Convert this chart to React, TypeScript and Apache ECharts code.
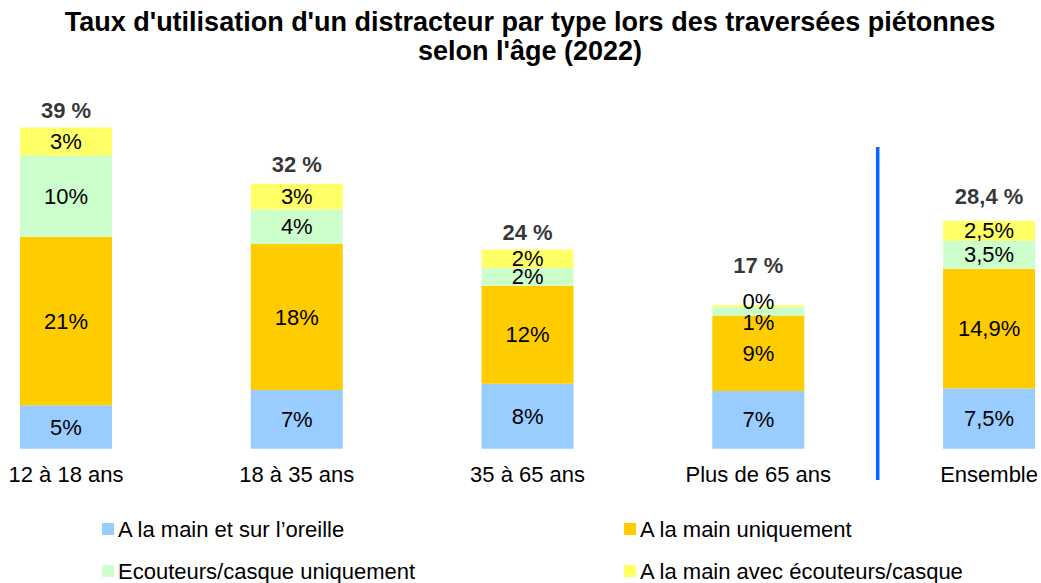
import React, { useEffect, useRef } from 'react';
import * as echarts from 'echarts';

const categories = ['12 à 18 ans', '18 à 35 ans', '35 à 65 ans', 'Plus de 65 ans', 'Ensemble'];
const seriesNames = [
  'A la main et sur l’oreille',
  'A la main uniquement',
  'Ecouteurs/casque uniquement',
  'A la main avec écouteurs/casque',
];
// segment heights (percent)
const mainEtOreille = [5.4, 7.3, 8.1, 7.2, 7.5];
const mainUniquement = [21.0, 18.2, 12.2, 9.4, 14.9];
const ecouteurs = [10.1, 4.3, 2.2, 1.0, 3.5];
const mainEcouteurs = [3.5, 3.2, 2.3, 0.25, 2.5];
// printed labels
const labelsMainOreille = ['5%', '7%', '8%', '7%', '7,5%'];
const labelsMainUniq = ['21%', '18%', '12%', '9%', '14,9%'];
const labelsEcouteurs = ['10%', '4%', '2%', '1%', '3,5%'];
const labelsMainEcouteurs = ['3%', '3%', '2%', '0%', '2,5%'];
const totalLabels = ['39 %', '32 %', '24 %', '17 %', '28,4 %'];

const FONT = '"Liberation Sans", Arial, Helvetica, sans-serif';
const colors = ['#99CCFF', '#FFCC00', '#CCFFCC', '#FFFF66'];

export default function App() {
  const ref = useRef<HTMLDivElement>(null);
  useEffect(() => {
    if (!ref.current) return;
    const chart = echarts.init(ref.current, undefined, { renderer: 'svg' });
    const lbl = (arr: string[]) => ({
      show: true,
      position: 'inside',
      color: '#000',
      fontSize: 22,
      fontFamily: FONT,
      formatter: (p: any) => arr[p.dataIndex],
    });
    const totals = categories.map(
      (_, i) => mainEtOreille[i] + mainUniquement[i] + ecouteurs[i] + mainEcouteurs[i]
    );
    const totalOffsets = [0, -2, 0, -22, -7];
    const legendItem = (name: string, left: number, top: number) => ({
      orient: 'horizontal',
      left,
      top,
      padding: 0,
      itemWidth: 12,
      itemHeight: 12,
      itemGap: 0,
      icon: 'rect',
      selectedMode: false,
      textStyle: { fontSize: 22, color: '#000', fontFamily: FONT, padding: [0, 0, 0, -1] },
      data: [name],
    });
    chart.setOption({
      animation: false,
      grid: { left: 66, right: 51, top: 47.2, bottom: 134.3 },
      xAxis: {
        type: 'category',
        data: categories,
        boundaryGap: false,
        axisLine: { show: false },
        axisTick: { show: false },
        axisLabel: { interval: 0, color: '#000', fontSize: 22, fontFamily: FONT, margin: 15 },
      },
      yAxis: { type: 'value', min: 0, max: 50, show: false },
      legend: [
        legendItem(seriesNames[0], 102, 518),
        legendItem(seriesNames[2], 102, 560),
        legendItem(seriesNames[1], 624, 518),
        legendItem(seriesNames[3], 624, 560),
      ],
      series: [
        {
          name: seriesNames[0], type: 'bar', stack: 'total', barWidth: 92,
          itemStyle: { color: colors[0] }, label: lbl(labelsMainOreille), data: mainEtOreille,
        },
        {
          name: seriesNames[1], type: 'bar', stack: 'total', barWidth: 92,
          itemStyle: { color: colors[1] }, label: lbl(labelsMainUniq), data: mainUniquement,
        },
        {
          name: seriesNames[2], type: 'bar', stack: 'total', barWidth: 92,
          itemStyle: { color: colors[2] }, label: lbl(labelsEcouteurs),
          data: ecouteurs.map((v, i) => (i === 3 ? { value: v, label: { offset: [0, 11] } } : v)),
        },
        {
          name: seriesNames[3], type: 'bar', stack: 'total', barWidth: 92,
          itemStyle: { color: colors[3] }, label: lbl(labelsMainEcouteurs),
          data: mainEcouteurs.map((v, i) => (i === 3 ? { value: v, label: { offset: [0, -5] } } : v)),
        },
        {
          name: 'total', type: 'scatter', symbolSize: 1, silent: true, z: 10,
          itemStyle: { color: 'rgba(0,0,0,0)' },
          label: {
            show: true, position: 'top', distance: 6, color: '#000', fontSize: 22,
            fontWeight: 'bold', fontFamily: FONT,
            formatter: (p: any) => totalLabels[p.dataIndex],
          },
          data: totals.map((v, i) => ({ value: v, label: { offset: [0, totalOffsets[i]] } })),
        },
      ],
      graphic: [
        {
          type: 'text', x: 530, y: 7,
          style: {
            text: "Taux d'utilisation d'un distracteur par type lors des traversées piétonnes\nselon l'âge (2022)",
            fill: '#000', fontSize: 27, fontWeight: 'bold', fontFamily: FONT,
            align: 'center', verticalAlign: 'top', lineHeight: 29,
          },
        },
        {
          type: 'line',
          shape: { x1: 877.7, y1: 147, x2: 877.7, y2: 480 },
          style: { stroke: '#0066FF', lineWidth: 3.5 },
        },
      ],
    });
    return () => chart.dispose();
  }, []);
  return (
    <div
      ref={ref}
      style={{ position: 'absolute', left: 0, top: 0, width: 1041, height: 583, background: '#fff' }}
    />
  );
}
